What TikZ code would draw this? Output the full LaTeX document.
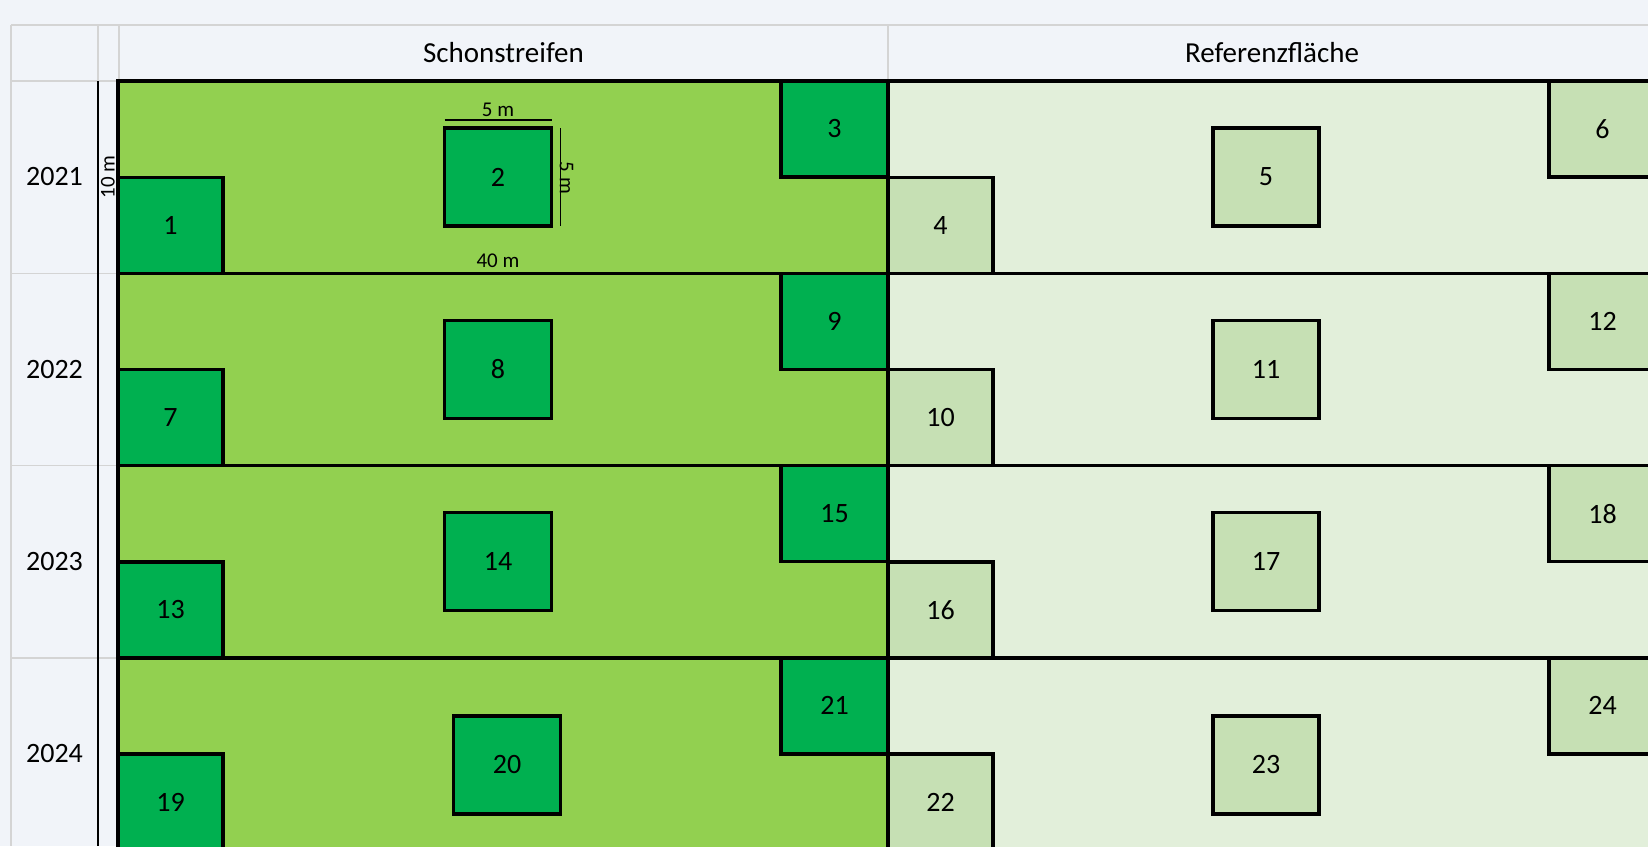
\documentclass[tikz,border=0pt]{standalone}
\usepackage{fontspec}
\setmainfont{Carlito}
\usetikzlibrary{calc}
\definecolor{pagebg}{HTML}{F1F4F9}
\definecolor{gridgrey}{HTML}{D4D4D4}
\definecolor{stripgreen}{HTML}{92D050}
\definecolor{plotgreen}{HTML}{00B050}
\definecolor{refbg}{HTML}{E2EFDA}
\definecolor{refplot}{HTML}{C6E0B4}
\tikzset{
  big/.style={font=\fontsize{28}{33}\selectfont, inner sep=0pt},
  head/.style={font=\fontsize{29}{34}\selectfont, inner sep=0pt},
  small/.style={font=\fontsize{21}{25}\selectfont, inner sep=0pt},
  gridline/.style={draw=gridgrey, line width=1.4pt},
  area/.style={draw=black, line width=3.6pt},
  dimline/.style={draw=black, line width=1.9pt},
  plotbase/.style={draw=black, line width=3.6pt, inner sep=0pt, outer sep=0pt,
    font=\fontsize{28}{33}\selectfont},
  splot/.style={plotbase, fill=plotgreen},
  rplot/.style={plotbase, fill=refplot},
}
\begin{document}
\begin{tikzpicture}[x=1pt,y=-1pt]
\useasboundingbox (0,0) rectangle (1648,846);
\clip (0,0) rectangle (1648,846);
\fill[pagebg] (0,0) rectangle (1648,846);

% sheet grid
\draw[gridline] (11,25) -- (1648,25);
\draw[gridline] (11,25) -- (11,846);
\draw[gridline] (11,81) -- (118,81);
\draw[gridline] (98,25) -- (98,81);
\draw[gridline] (119,25) -- (119,81);
\draw[gridline] (888,25) -- (888,81);
\foreach \i in {1,2,3}{
  \draw[gridline] (11,{81+192.3*\i}) -- (118,{81+192.3*\i});
}

% column headers
\node[head] (hs) at (503.5,53) {Schonstreifen};
\node[head] (hr) at (1272,53) {Referenzfläche};

% long side line
\draw[black, line width=2.1pt] (98,81) -- (98,846);

% yearly strips
\foreach \i/\yr in {0/2021,1/2022,2/2023,3/2024}{
  \pgfmathsetmacro\r{81+192.3*\i}
  \draw[area, fill=stripgreen] (118,\r) rectangle (888,{\r+192.3});
  \draw[area, fill=refbg] (888,\r) rectangle (1662,{\r+192.3});
  \node[big] (y\yr) at (54.5,{\r+96}) {\yr};
}

% sampling plots
\foreach \i in {0,1,2,3}{
  \pgfmathsetmacro\r{81+192.3*\i}
  \pgfmathsetmacro\dy{\i==3 ? 11 : 0}
  \pgfmathsetmacro\dx{\i==3 ? 9 : 0}
  \pgfmathtruncatemacro\na{6*\i+1}
  \pgfmathtruncatemacro\nb{6*\i+2}
  \pgfmathtruncatemacro\nc{6*\i+3}
  \pgfmathtruncatemacro\nd{6*\i+4}
  \pgfmathtruncatemacro\ne{6*\i+5}
  \pgfmathtruncatemacro\nf{6*\i+6}
  \node[splot, minimum width=105pt, minimum height=96pt] (b\na) at (170.5,{\r+144.3}) {\na};
  \node[splot, minimum width=107pt, minimum height=98pt] (b\nb) at ({498+\dx},{\r+96+\dy}) {\nb};
  \node[splot, minimum width=107pt, minimum height=96pt] (b\nc) at (834.5,{\r+48}) {\nc};
  \node[rplot, minimum width=105pt, minimum height=96pt] (b\nd) at (940.5,{\r+144.3}) {\nd};
  \node[rplot, minimum width=106pt, minimum height=98pt] (b\ne) at (1266,{\r+96+\dy}) {\ne};
  \node[rplot, minimum width=107pt, minimum height=96pt] (b\nf) at (1602.5,{\r+48}) {\nf};
}

% dimensions
\coordinate (dtl) at ($(b2.north west)+(0,-8)$);
\coordinate (dtr) at ($(b2.north east)+(0,-8)$);
\draw[dimline] (dtl) -- (dtr);
\node[small] (dtop) at ($(b2.north)+(0,-18)$) {5 m};
\coordinate (drt) at ($(b2.north east)+(9,0)$);
\coordinate (drb) at ($(b2.south east)+(9,0)$);
\draw[dimline] (drt) -- (drb);
\node[small, rotate=-90] (dright) at ($(b2.east)+(15,1)$) {5 m};
\node[small] (dlen) at (498,261) {40 m};
\node[small, rotate=90] (dwid) at (108,177) {10 m};
\end{tikzpicture}
\end{document}
